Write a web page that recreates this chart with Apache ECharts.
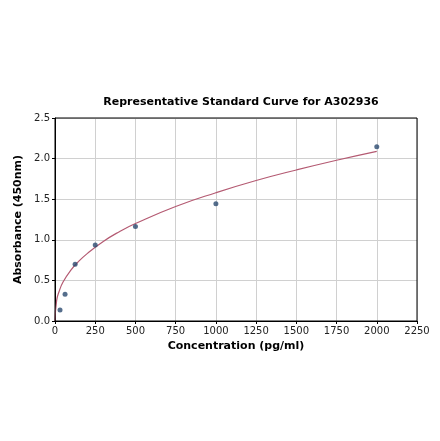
<!DOCTYPE html>
<html>
<head>
  <meta charset="utf-8">
  <title>Standard Curve</title>
  <script src="https://cdn.jsdelivr.net/npm/echarts@6/dist/echarts.min.js"></script>
  <style type="text/css">
    html, body { margin: 0; padding: 0; background: #fff; }
    #chart { width: 440px; height: 441px; }
  </style>
</head>
<body>
<div id="chart"></div>
<script>
  // measured standards
  var concentration = [31.25, 62.5, 125, 250, 500, 1000, 2000];
  var absorbance = [0.135, 0.33, 0.70, 0.935, 1.165, 1.445, 2.145];
  // fitted curve
  var curveX = [0, 10, 25, 50, 100, 150, 200, 300, 400, 500, 750, 1000, 1250, 1500, 1750, 2000];
  var curveY = [0, 0.25, 0.36, 0.48, 0.63, 0.74, 0.83, 0.98, 1.10, 1.20, 1.41, 1.58, 1.73, 1.86, 1.98, 2.09];

  function pairs(xs, ys) {
    var out = [];
    for (var i = 0; i < xs.length; i++) out.push([xs[i], ys[i]]);
    return out;
  }

  var chart = echarts.init(document.getElementById('chart'));
  var font = 'DejaVu Sans';
  chart.setOption({
    animation: false,
    title: {
      text: 'Representative Standard Curve for A302936',
      left: 236, top: 92, textAlign: 'center',
      textStyle: { fontFamily: font, fontSize: 11, fontWeight: 'bold', color: '#000' }
    },
    grid: { left: 55, right: 23, top: 118, bottom: 120 },
    xAxis: {
      type: 'value', min: 0, max: 2250, interval: 250,
      name: 'Concentration (pg/ml)', nameLocation: 'middle', nameGap: 20,
      nameTextStyle: { fontFamily: font, fontSize: 11, fontWeight: 'bold', color: '#000' },
      axisLine: { onZero: false, lineStyle: { color: '#000', width: 1 } },
      axisTick: { show: true, length: 3, lineStyle: { color: '#000' } },
      axisLabel: { fontFamily: font, fontSize: 10, color: '#222', margin: 5,
        formatter: function (v) { return String(v); } },
      splitLine: { show: true, lineStyle: { color: '#d0d0d0', width: 1 } }
    },
    yAxis: {
      type: 'value', min: 0, max: 2.5, interval: 0.5,
      name: 'Absorbance (450nm)', nameLocation: 'middle', nameGap: 25,
      nameTextStyle: { fontFamily: font, fontSize: 11, fontWeight: 'bold', color: '#000' },
      axisLine: { show: true, onZero: false, lineStyle: { color: '#000', width: 1 } },
      axisTick: { show: true, length: 3, lineStyle: { color: '#000' } },
      axisLabel: { fontFamily: font, fontSize: 10, color: '#222', margin: 5,
        formatter: function (v) { return v.toFixed(1); } },
      splitLine: { show: true, lineStyle: { color: '#d0d0d0', width: 1 } }
    },
    series: [
      {
        type: 'line', data: pairs(curveX, curveY), smooth: true,
        showSymbol: false, lineStyle: { color: '#b45a72', width: 1.2 }, z: 2
      },
      {
        type: 'scatter', data: pairs(concentration, absorbance),
        symbolSize: 5, itemStyle: { color: '#2b4a6f' }, z: 3
      }
    ],
    graphic: [{
      type: 'rect', shape: { x: 55, y: 118, width: 362, height: 203 },
      style: { fill: 'none', stroke: '#000', lineWidth: 1 }, z: 10
    }]
  });
</script>
</body>
</html>
